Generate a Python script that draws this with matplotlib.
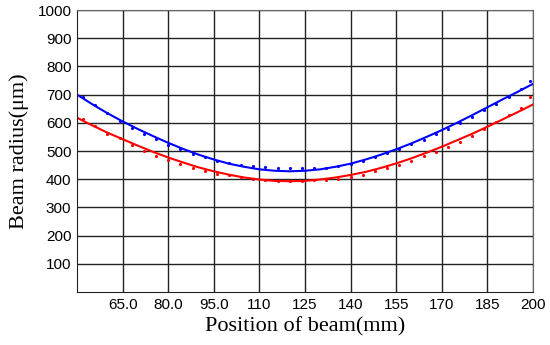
import matplotlib
matplotlib.use("Agg")
import matplotlib.pyplot as plt

# Fitted curves (position mm -> beam radius um)
fit_x = [50, 55, 60, 65, 70, 75, 80, 85, 90, 95, 100, 105, 110, 115, 120, 125,
         130, 135, 140, 145, 150, 155, 160, 165, 170, 175, 180, 185, 190, 195, 200]
blue_fit = [700, 666, 634, 605, 578, 553, 529, 507, 487, 470, 455, 444, 435, 430, 428, 430,
            435, 444, 455, 470, 487, 506, 527, 550, 574, 600, 627, 655, 683, 710, 738]
red_fit = [618, 591, 565, 542, 519, 497, 477, 459, 442, 428, 416, 406, 399, 394, 393, 394,
           399, 406, 415, 426, 440, 456, 474, 494, 515, 538, 561, 586, 612, 638, 665]

# Measured points
pt_x = [52, 56, 60, 64, 68, 72, 76, 80, 84, 88, 92, 96, 100, 104, 108, 112, 116, 120,
        124, 128, 132, 136, 140, 144, 148, 152, 156, 160, 164, 168, 172, 176, 180, 184,
        188, 192, 196, 199]
blue_pts = [692, 662, 636, 608, 582, 560, 542, 522, 506, 490, 478, 466, 458, 452, 446, 442,
            440, 441, 441, 440, 438, 446, 454, 464, 478, 494, 508, 524, 540, 560, 578, 598,
            620, 645, 668, 692, 720, 748]
red_pts = [614, 588, 562, 545, 520, 500, 482, 468, 455, 440, 430, 420, 415, 408, 402, 397,
           395, 393, 394, 396, 398, 402, 408, 416, 428, 440, 452, 466, 482, 498, 514, 532,
           554, 578, 604, 626, 652, 690]

x_ticks = [65, 80, 95, 110, 125, 140, 155, 170, 185, 200]
x_labels = ["65.0", "80.0", "95.0", "110", "125", "140", "155", "170", "185", "200"]
y_ticks = [100, 200, 300, 400, 500, 600, 700, 800, 900, 1000]

fig = plt.figure(figsize=(5.5, 3.45), dpi=100)
ax = fig.add_axes([0.14, 0.1536, 0.829, 0.8174])

ax.plot(pt_x, blue_pts, linestyle="none", marker=".", ms=2.5, color="#0000ff")
ax.plot(pt_x, red_pts, linestyle="none", marker=".", ms=2.5, color="#ff0000")
ax.plot(fit_x, blue_fit, color="#0000ff", lw=1.5)
ax.plot(fit_x, red_fit, color="#ff0000", lw=1.5)

ax.set_xlim(50, 200)
ax.set_ylim(0, 1000)
ax.set_xticks(x_ticks)
ax.set_xticklabels(x_labels)
ax.set_yticks(y_ticks)
ax.tick_params(length=0, labelsize=11, pad=4)
for lab in ax.get_xticklabels() + ax.get_yticklabels():
    lab.set_fontfamily("Liberation Sans")
ax.grid(True, color="#222222", lw=1.0)
ax.set_axisbelow(True)
for s in ["left", "bottom"]:
    ax.spines[s].set_color("#222222")
for s in ["top", "right"]:
    ax.spines[s].set_color("#666666")

ax.set_xlabel("Position of beam(mm)", fontfamily="Liberation Serif", fontsize=16, labelpad=4)
ax.set_ylabel("Beam radius(μm)", fontfamily="Liberation Serif", fontsize=16, labelpad=6)

fig.savefig("out.png", dpi=100)
